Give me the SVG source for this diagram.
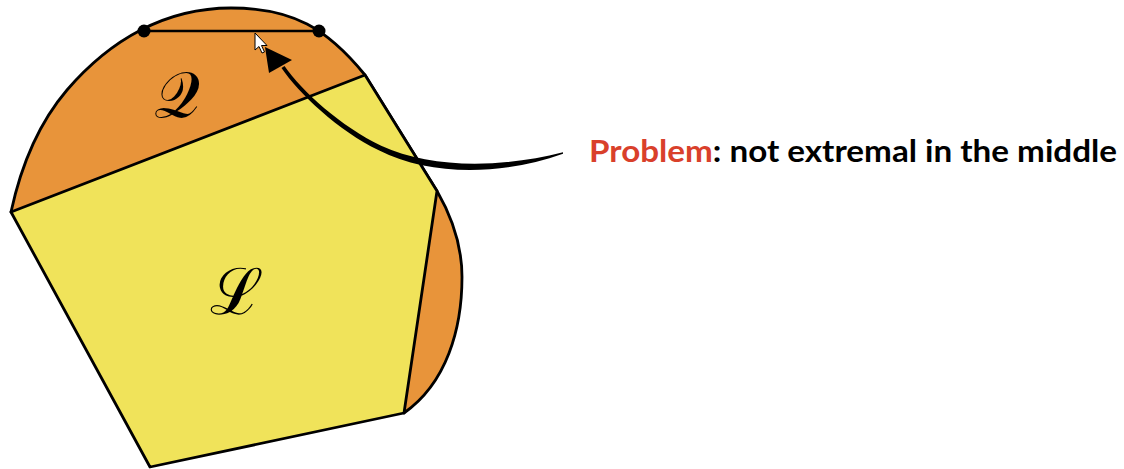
<svg xmlns="http://www.w3.org/2000/svg" width="1124" height="469" viewBox="0 0 1124 469">
  <style>
    .outline { stroke: #000; stroke-width: 2.8; stroke-linejoin: round; }
    .q { fill: #E8943A; }
    .l { fill: #F0E35A; }
    .math { font-family: "DejaVu Serif", "Liberation Serif", serif; font-size: 64px; fill: #000; }
    .caption { font-family: Lato, "Liberation Sans", sans-serif; font-weight: bold; font-size: 31px; }
  </style>
  <rect width="1124" height="469" fill="#fff"/>
  <g id="Q">
    <path class="q outline" d="M 11,212 C 20.5,168 38,124 67,90 C 110,40 165,8 231,8 C 293,8 327,28.5 365,75 L 437,191 C 452,217 462,247 462,277 C 462,329 446.6,383 404,413 Z"/>
    <text class="math" x="177" y="117" text-anchor="middle">𝒬</text>
  </g>
  <g id="L">
    <polygon class="l outline" points="11,212 365,75 437,191 404,413 150,467"/>
    <text class="math" x="236" y="314" text-anchor="middle">ℒ</text>
  </g>
  <g id="chord">
    <line x1="144" y1="31" x2="319" y2="31" stroke="#000" stroke-width="2.5"/>
    <circle cx="144" cy="31" r="6.5" fill="#000"/>
    <circle cx="319" cy="31" r="6.5" fill="#000"/>
  </g>
  <g id="connectors">
    <path fill="#000" d="M 563,152.3 C 500,168.5 430,168.5 381.2,145.8 C 341.5,126.8 301.5,91 284.5,66 L 281.5,68 C 298.5,93 338.5,131.2 378.8,150.2 C 430,176 500,176 563,153.7 Z"/>
    <polygon fill="#000" points="265,47 292,60 269,73"/>
  </g>
  <g id="cursor">
    <path d="M255,33 L255,50 L259,46.5 L262,53 L264.5,52 L261.5,45.5 L267,45.5 Z" fill="#fff" stroke="#000" stroke-width="1" stroke-linejoin="round"/>
  </g>
  <g id="label">
    <text class="caption" x="589" y="162" textLength="528" lengthAdjust="spacingAndGlyphs"><tspan fill="#D9402B">Problem</tspan><tspan fill="#000">: not extremal in the middle</tspan></text>
  </g>
</svg>
